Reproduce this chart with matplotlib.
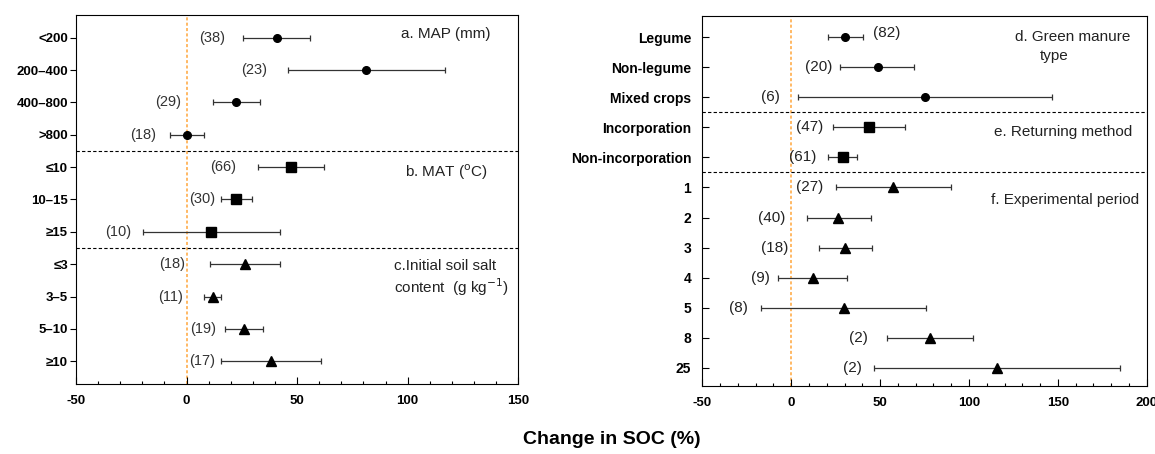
import matplotlib
matplotlib.use("Agg")
import matplotlib.pyplot as plt
from matplotlib.ticker import MultipleLocator

plt.rcParams['font.family'] = ['Liberation Sans', 'DejaVu Sans']
plt.rcParams['axes.unicode_minus'] = False

# ---- left panel data (a. MAP, b. MAT, c. salt) ----
left_cats = ['<200', '200–400', '400–800', '>800', '≤10', '10–15', '≥15',
             '≤3', '3–5', '5–10', '≥10']
left_mean = [40.7, 81.2, 22.5, 0.3, 47.4, 22.3, 11.2, 26.6, 11.9, 26.0, 38.4]
left_lo = [25.4, 45.7, 11.9, -7.5, 32.3, 15.4, -19.9, 10.6, 8.1, 17.4, 15.7]
left_hi = [55.8, 117.0, 33.2, 8.0, 62.2, 29.4, 42.2, 42.2, 15.7, 34.4, 61.0]
left_n = [38, 23, 29, 18, 66, 30, 10, 18, 11, 19, 17]
left_group = [0, 0, 0, 0, 1, 1, 1, 2, 2, 2, 2]

# ---- right panel data (d. type, e. method, f. period) ----
right_cats = ['Legume', 'Non-legume', 'Mixed crops', 'Incorporation',
              'Non-incorporation', '1', '2', '3', '4', '5', '8', '25']
right_mean = [30.4, 48.7, 75.4, 43.8, 28.9, 57.4, 26.3, 30.4, 12.2, 29.5, 78.1, 115.7]
right_lo = [20.6, 27.6, 3.9, 23.5, 20.7, 25.0, 8.6, 15.7, -7.2, -16.8, 54.0, 46.6]
right_hi = [40.6, 69.2, 146.6, 63.8, 37.2, 89.9, 44.6, 45.6, 31.4, 76.0, 102.0, 185.1]
right_n = [82, 20, 6, 47, 61, 27, 40, 18, 9, 8, 2, 2]
right_group = [0, 0, 0, 1, 1, 2, 2, 2, 2, 2, 2, 2]

# layout: where the (n) labels sit (right edge, data units)
left_lab_x = [17.3, 36.4, -2.6, -13.8, 22.6, 13.0, -24.8, -0.6, -1.8, 13.5, 13.1]
right_lab_x = [45.9, 23.1, -6.3, 18.2, 14.2, 18.2, -3.3, -1.6, -12.0, -24.6, 43.2, 40.0]

markers = ['o', 's', '^']
msizes = [5.5, 6.5, 6.5]
ecol = '#333333'
orange = '#ffa53a'
tcol = '#222222'

fig = plt.figure(figsize=(11.55, 4.54), dpi=100)
ax1 = fig.add_axes([0.0658, 0.1542, 0.3829, 0.8128])
ax2 = fig.add_axes([0.6081, 0.1491, 0.3848, 0.8163])


def draw(ax, mean, lo, hi, group):
    for i in range(len(mean)):
        ax.errorbar(mean[i], i, xerr=[[mean[i] - lo[i]], [hi[i] - mean[i]]],
                    fmt=markers[group[i]], color='black', ms=msizes[group[i]],
                    ecolor=ecol, elinewidth=0.9, capsize=2.5, capthick=0.9, zorder=3)


def xticks(ax):
    ax.xaxis.set_major_locator(MultipleLocator(50))
    ax.xaxis.set_minor_locator(MultipleLocator(10))
    ax.tick_params(axis='x', which='major', direction='in', length=5, width=0.8,
                   labelsize=9.5, pad=8)
    ax.tick_params(axis='x', which='minor', direction='in', length=2.5, width=0.8)
    for lab in ax.get_xticklabels():
        lab.set_fontweight('bold')


# ---------- left ----------
draw(ax1, left_mean, left_lo, left_hi, left_group)
for i in range(len(left_n)):
    ax1.text(left_lab_x[i], i, '(%d)' % left_n[i], ha='right', va='center',
             fontsize=10.5, color='#333333')
ax1.axvline(0, color=orange, lw=1.1, ls=(0, (2, 1.5)), zorder=1)
for yy in [3.5, 6.5]:
    ax1.axhline(yy, color='black', lw=0.8, ls=(0, (3, 2)))
ax1.set_xlim(-50, 150)
ax1.set_ylim(10.7, -0.7)
ax1.set_yticks(range(len(left_cats)))
ax1.set_yticklabels(left_cats, fontsize=9.5, fontweight='bold')
xticks(ax1)
ax1.tick_params(axis='y', direction='out', length=4.3, width=0.8, pad=1.5)
ax1.text(97, -0.1, 'a. MAP (mm)', fontsize=11, va='center', color=tcol)
ax1.text(99, 4.17, r'b. MAT ($^{\rm o}$C)', fontsize=11, va='center', color=tcol)
ax1.text(94, 7.07, 'c.Initial soil salt', fontsize=11, va='center', color=tcol)
ax1.text(94, 7.72, r'content  (g kg$^{-1}$)', fontsize=11, va='center', color=tcol)

# ---------- right ----------
draw(ax2, right_mean, right_lo, right_hi, right_group)
for i in range(len(right_n)):
    if i == 0:
        ax2.text(right_lab_x[i], i - 0.15, '(%d)' % right_n[i], ha='left', va='center',
                 fontsize=11, color=tcol)
    else:
        ax2.text(right_lab_x[i], i, '(%d)' % right_n[i], ha='right', va='center',
                 fontsize=11, color=tcol)
ax2.axvline(0, color=orange, lw=1.1, ls=(0, (2, 1.5)), zorder=1)
for yy in [2.5, 4.5]:
    ax2.axhline(yy, color='black', lw=0.8, ls=(0, (3, 2)))
ax2.set_xlim(-50, 200)
ax2.set_ylim(11.62, -0.72)
ax2.set_yticks(range(len(right_cats)))
ax2.set_yticklabels(right_cats, fontsize=10, fontweight='bold')
xticks(ax2)
ax2.tick_params(axis='y', direction='in', length=5, width=0.8, pad=8)
ax2.text(125.9, 0, 'd. Green manure', fontsize=11, va='center', color=tcol)
ax2.text(147.7, 0.61, 'type', fontsize=11, va='center', ha='center', color=tcol)
ax2.text(113.8, 3.15, 'e. Returning method', fontsize=11, va='center', color=tcol)
ax2.text(112.5, 5.4, 'f. Experimental period', fontsize=11, va='center', color=tcol)

fig.text(0.53, 0.033, 'Change in SOC (%)', ha='center', va='center',
         fontsize=14, fontweight='bold')

fig.savefig('out.png', dpi=100)
